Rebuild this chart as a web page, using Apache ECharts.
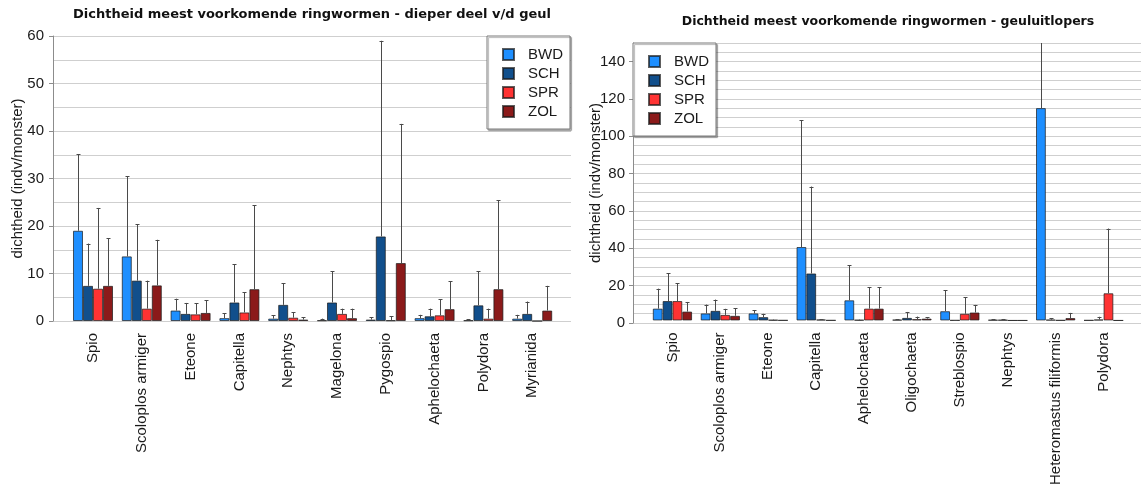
<!DOCTYPE html>
<html>
<head>
<meta charset="utf-8">
<title>Dichtheid meest voorkomende ringwormen</title>
<script src="https://cdn.jsdelivr.net/npm/echarts@6/dist/echarts.min.js"></script>
<style>
  html, body { margin: 0; padding: 0; background: #ffffff; }
  #chart { width: 1141px; height: 488px; }
</style>
</head>
<body>
<div id="chart"></div>
<script>
// ---- Dieper deel van de geul: gemiddelde dichtheid en standaardafwijking (indv/monster)
const deepCategories = ['Spio', 'Scoloplos armiger', 'Eteone', 'Capitella', 'Nephtys',
  'Magelona', 'Pygospio', 'Aphelochaeta', 'Polydora', 'Myrianida'];
const deepBWD = [19.0, 13.6, 2.2, 0.6, 0.5, 0.15, 0.3, 0.6, 0.15, 0.5];
const deepBWDsd = [16.1, 16.9, 2.5, 1.0, 0.7, 0.35, 0.5, 0.7, 0.2, 0.8];
const deepSCH = [7.4, 8.5, 1.5, 3.9, 3.4, 3.9, 17.8, 1.0, 3.3, 1.5];
const deepSCHsd = [8.9, 11.9, 2.3, 8.0, 4.5, 6.6, 41.2, 1.6, 7.2, 2.6];
const deepSPR = [6.8, 2.6, 1.4, 1.8, 0.7, 1.5, 0.15, 1.2, 0.5, 0];
const deepSPRsd = [17.0, 5.9, 2.3, 4.3, 1.1, 1.1, 0.85, 3.4, 2.1, 0];
const deepZOL = [7.4, 7.5, 1.7, 6.7, 0.3, 0.6, 12.2, 2.5, 6.7, 2.2];
const deepZOLsd = [10.0, 9.6, 2.7, 17.7, 0.5, 2.0, 29.3, 5.9, 18.7, 5.2];

// ---- Geuluitlopers
const outCategories = ['Spio', 'Scoloplos armiger', 'Eteone', 'Capitella', 'Aphelochaeta',
  'Oligochaeta', 'Streblospio', 'Nephtys', 'Heteromastus filiformis', 'Polydora'];
const outBWD = [6.4, 3.8, 3.8, 39.7, 10.9, 0.4, 5.0, 0.3, 114.8, 0.1];
const outBWDsd = [10.8, 4.8, 1.7, 68.6, 19.0, 0.3, 11.3, 0.3, 42.0, 0];
const outSCH = [10.5, 5.2, 1.8, 25.4, 0.3, 1.4, 0.1, 0.3, 0.4, 0.5];
const outSCHsd = [14.9, 6.1, 1.8, 47.0, 0.2, 3.2, 0.1, 0.5, 0.8, 1.5];
const outSPR = [10.5, 3.0, 0.3, 0.5, 6.4, 0.7, 3.6, 0, 0.1, 14.7];
const outSPRsd = [9.5, 3.3, 0.2, 0.2, 11.5, 1.4, 9.0, 0, 0, 35.0];
const outZOL = [4.8, 2.5, 0.1, 0.1, 6.4, 1.0, 4.3, 0, 1.3, 0];
const outZOLsd = [5.2, 4.1, 0, 0, 11.5, 0.7, 4.1, 0, 2.8, 0];

// Axis ranges and tick steps
const deepMax = 60, deepLabelStep = 10, deepGridStep = 5;
const outMax = 150, outLabelMax = 140, outLabelStep = 20, outGridStep = 5;

const stations = ['BWD', 'SCH', 'SPR', 'ZOL'];
const colors = { BWD: '#1e8fff', SCH: '#114f8c', SPR: '#ff3333', ZOL: '#8b1a1a' };

const FONT = "'Liberation Sans', Arial, sans-serif";
const TITLE_FONT = "'DejaVu Sans', Verdana, sans-serif";
const CAT_GAP = 0.18;

// Layout of the two panels
const deepTop = 36, deepHeight = 285;
const outTop = 43, outHeight = 280;
const outLabelTop = outTop + (outMax - outLabelMax) * outHeight / outMax;

function barSeries(name, values, xIdx, yIdx) {
  return {
    type: 'bar', name: name, data: values,
    xAxisIndex: xIdx, yAxisIndex: yIdx,
    barGap: '0%', barCategoryGap: (CAT_GAP * 100) + '%',
    itemStyle: { color: colors[name], borderColor: 'rgba(25,25,25,0.7)', borderWidth: 1 },
    emphasis: { disabled: true }
  };
}

// Upward standard-deviation whiskers, placed on the centre of each grouped bar
function errorSeries(name, slot, values, sds, xIdx, yIdx, yMax) {
  return {
    type: 'custom', name: name + ' sd',
    xAxisIndex: xIdx, yAxisIndex: yIdx,
    silent: true, z: 3,
    data: values.map((v, i) => [i, v, v + sds[i], sds[i]]),
    encode: { x: 0, y: 1 },
    renderItem: function (params, api) {
      const i = api.value(0), mean = api.value(1), top = api.value(2), sd = api.value(3);
      if (!(sd > 0)) return;
      const band = api.size([1, 0])[0];
      const inner = band * (1 - CAT_GAP);
      const base = api.coord([i, mean]);
      const x = Math.round(base[0] - inner / 2 + (slot + 0.5) * inner / 4) + 0.5;
      const clipped = top > yMax;
      const yTop = api.coord([i, Math.min(top, yMax)])[1];
      const style = { stroke: '#4a4a4a', lineWidth: 1 };
      const children = [{ type: 'line', shape: { x1: x, y1: base[1], x2: x, y2: yTop }, style: style }];
      if (!clipped) {
        const yc = Math.round(yTop) + 0.5;
        children.push({ type: 'line', shape: { x1: x - 2, y1: yc, x2: x + 2, y2: yc }, style: style });
      }
      return { type: 'group', children: children };
    }
  };
}

const legendBase = {
  orient: 'vertical',
  data: stations,
  icon: 'rect',
  itemWidth: 11, itemHeight: 11, itemGap: 4,
  padding: [11, 7, 10, 15],
  backgroundColor: '#ffffff',
  borderColor: '#7a7a7a', borderWidth: 1,
  shadowColor: 'rgba(0,0,0,0.3)', shadowBlur: 1, shadowOffsetX: 1.5, shadowOffsetY: 1.5,
  selectedMode: false,
  textStyle: { fontFamily: FONT, fontSize: 15, color: '#1a1a1a', padding: [0, 0, 0, 9] }
};

const splitAxis = (max, step) => ({
  type: 'value', position: 'left', min: 0, max: max, interval: step,
  axisLine: { show: true, lineStyle: { color: '#8c8c8c', width: 1 } },
  axisTick: { show: false },
  axisLabel: { show: false },
  splitLine: { show: true, lineStyle: { color: '#cfcfcf', width: 1 } },
  name: 'dichtheid (indv/monster)', nameLocation: 'middle',
  nameTextStyle: { fontFamily: FONT, fontSize: 15, color: '#1a1a1a' }
});

const labelAxis = (max, step, margin) => ({
  type: 'value', position: 'left', offset: 0, min: 0, max: max, interval: step,
  axisLine: { show: false },
  axisTick: { show: true, length: 4, lineStyle: { color: '#8c8c8c' } },
  axisLabel: { fontFamily: FONT, fontSize: 15, color: '#1a1a1a', margin: margin },
  splitLine: { show: false }
});

const hiddenY = (max) => ({ type: 'value', min: 0, max: max, show: false, splitLine: { show: false } });
const hiddenX = () => ({ type: 'value', min: 0, max: 1, show: false, splitLine: { show: false } });

const catAxis = (cats) => ({
  type: 'category', data: cats, boundaryGap: true,
  axisLine: { show: false }, axisTick: { show: false },
  axisLabel: { rotate: 90, margin: 12, fontFamily: FONT, fontSize: 15, color: '#1a1a1a', interval: 0 }
});

const option = {
  animation: false,
  backgroundColor: '#ffffff',
  graphic: [
    { type: 'text', x: 312, y: 15, style: {
      text: 'Dichtheid meest voorkomende ringwormen - dieper deel v/d geul',
      font: 'bold 13px ' + TITLE_FONT, fill: '#111', textAlign: 'center', textVerticalAlign: 'middle' } },
    { type: 'text', x: 888, y: 21.5, style: {
      text: 'Dichtheid meest voorkomende ringwormen - geuluitlopers',
      font: 'bold 12.5px ' + TITLE_FONT, fill: '#111', textAlign: 'center', textVerticalAlign: 'middle' } }
  ],
  legend: [
    Object.assign({}, legendBase, { left: 487, top: 36 }),
    Object.assign({}, legendBase, { left: 633, top: 43 })
  ],
  grid: [
    { left: 53, top: deepTop, width: 518, height: deepHeight },        // 0: frame + grid lines
    { left: 68.6, top: deepTop, width: 488, height: deepHeight },      // 1: bars
    { left: 633, top: outTop, width: 508, height: outHeight },         // 2: frame + grid lines
    { left: 648.5, top: outTop, width: 479, height: outHeight },       // 3: bars
    { left: 633, top: outLabelTop, width: 508, height: outTop + outHeight - outLabelTop } // 4: tick labels
  ],
  xAxis: [
    Object.assign(hiddenX(), { gridIndex: 0 }),
    Object.assign(catAxis(deepCategories), { gridIndex: 1 }),
    Object.assign(hiddenX(), { gridIndex: 2 }),
    Object.assign(catAxis(outCategories), { gridIndex: 3 }),
    Object.assign(hiddenX(), { gridIndex: 4 })
  ],
  yAxis: [
    Object.assign(splitAxis(deepMax, deepGridStep), { gridIndex: 0, nameGap: 28 }),
    Object.assign(labelAxis(deepMax, deepLabelStep, 9), { gridIndex: 0 }),
    Object.assign(hiddenY(deepMax), { gridIndex: 1 }),
    Object.assign(splitAxis(outMax, outGridStep), { gridIndex: 2, nameGap: 30 }),
    Object.assign(hiddenY(outMax), { gridIndex: 3 }),
    Object.assign(labelAxis(outLabelMax, outLabelStep, 8), { gridIndex: 4 })
  ],
  series: [
    barSeries('BWD', deepBWD, 1, 2),
    barSeries('SCH', deepSCH, 1, 2),
    barSeries('SPR', deepSPR, 1, 2),
    barSeries('ZOL', deepZOL, 1, 2),
    errorSeries('BWD', 0, deepBWD, deepBWDsd, 1, 2, deepMax),
    errorSeries('SCH', 1, deepSCH, deepSCHsd, 1, 2, deepMax),
    errorSeries('SPR', 2, deepSPR, deepSPRsd, 1, 2, deepMax),
    errorSeries('ZOL', 3, deepZOL, deepZOLsd, 1, 2, deepMax),
    barSeries('BWD', outBWD, 3, 4),
    barSeries('SCH', outSCH, 3, 4),
    barSeries('SPR', outSPR, 3, 4),
    barSeries('ZOL', outZOL, 3, 4),
    errorSeries('BWD', 0, outBWD, outBWDsd, 3, 4, outMax),
    errorSeries('SCH', 1, outSCH, outSCHsd, 3, 4, outMax),
    errorSeries('SPR', 2, outSPR, outSPRsd, 3, 4, outMax),
    errorSeries('ZOL', 3, outZOL, outZOLsd, 3, 4, outMax)
  ]
};

const chart = echarts.init(document.getElementById('chart'), null, { renderer: 'canvas' });
chart.setOption(option);
</script>
</body>
</html>
